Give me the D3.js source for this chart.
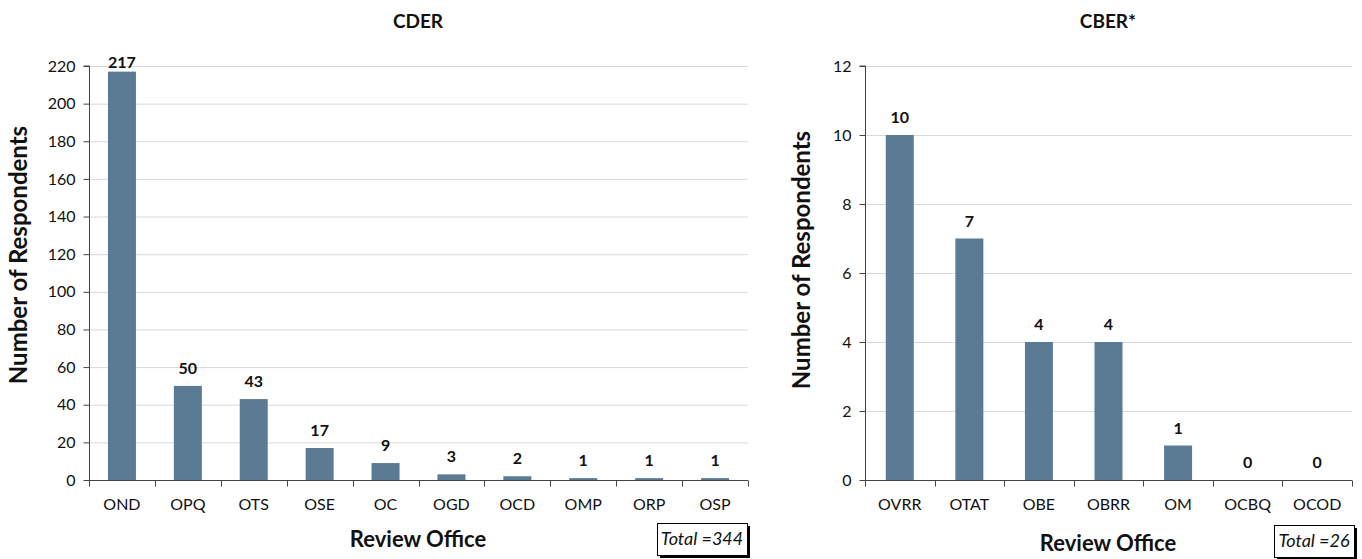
<!DOCTYPE html>
<html>
<head>
<meta charset="utf-8">
<script src="https://cdn.jsdelivr.net/npm/d3@7"></script>
<style>
  body { margin: 0; background: #fff; }
  svg { display: block; font-family: Lato, "Open Sans", sans-serif; }
</style>
</head>
<body>
<svg id="chart" width="1362" height="559"></svg>
<script>
// CDER review offices and respondent counts
const cderOffices = ["OND", "OPQ", "OTS", "OSE", "OC", "OGD", "OCD", "OMP", "ORP", "OSP"];
const cderCounts = [217, 50, 43, 17, 9, 3, 2, 1, 1, 1];
const cderTicks = [0, 20, 40, 60, 80, 100, 120, 140, 160, 180, 200, 220];

// CBER review offices and respondent counts
const cberOffices = ["OVRR", "OTAT", "OBE", "OBRR", "OM", "OCBQ", "OCOD"];
const cberCounts = [10, 7, 4, 4, 1, 0, 0];
const cberTicks = [0, 2, 4, 6, 8, 10, 12];

const panelTitles = ["CDER", "CBER*"];
const totals = ["Total =344", "Total =26"];

const svg = d3.select("#chart");
const barColor = "#5b7b94";

function drawPanel(cfg) {
  const g = svg.append("g");
  const x = d3.scaleBand().domain(cfg.cats).range([cfg.x0, cfg.x1]).paddingInner(0).paddingOuter(0);
  const y = d3.scaleLinear().domain([0, cfg.ymax]).range([cfg.yBottom, cfg.yTop]);
  const barW = 28;

  // horizontal gridlines
  g.selectAll("line.grid").data(cfg.ticks.filter(t => t > 0)).join("line")
    .attr("x1", cfg.x0).attr("x2", cfg.x1)
    .attr("y1", d => y(d) + 0.5).attr("y2", d => y(d) + 0.5)
    .attr("stroke", "#d9d9d9").attr("stroke-width", 1);

  // bars
  g.selectAll("rect.bar").data(cfg.vals).join("rect")
    .attr("x", (d, i) => x(cfg.cats[i]) + x.bandwidth() / 2 - barW / 2)
    .attr("width", barW)
    .attr("y", d => y(d))
    .attr("height", d => y(0) - y(d))
    .attr("fill", barColor);

  // value labels, kept inside the plot area at the top
  g.selectAll("text.val").data(cfg.vals).join("text")
    .attr("x", (d, i) => x(cfg.cats[i]) + x.bandwidth() / 2)
    .attr("y", d => Math.max(y(d) - 12, cfg.yTop + 2))
    .attr("text-anchor", "middle")
    .attr("font-size", 16).attr("font-weight", "bold").attr("fill", "#111")
    .text(d => d);

  // y axis
  const yAxis = d3.axisLeft(y).tickValues(cfg.ticks).tickSize(6).tickPadding(8);
  const ya = g.append("g").attr("transform", `translate(${cfg.x0 + 0.5},0)`).call(yAxis);
  ya.select(".domain").attr("stroke", "#444").attr("d", `M-6,${cfg.yTop}H0V${cfg.yBottom}`);
  ya.selectAll(".tick line").attr("stroke", "#444");
  ya.selectAll(".tick text").attr("font-size", 16).attr("fill", "#111").attr("font-family", "Lato, sans-serif");

  // x axis with ticks at band boundaries
  const xa = g.append("g").attr("transform", `translate(0,${cfg.yBottom + 0.5})`);
  xa.append("line").attr("x1", cfg.x0).attr("x2", cfg.x1).attr("stroke", "#444");
  const bounds = cfg.cats.map(c => x(c)).concat([cfg.x1]);
  xa.selectAll("line.tk").data(bounds).join("line")
    .attr("x1", d => Math.round(d) + 0.5).attr("x2", d => Math.round(d) + 0.5)
    .attr("y1", 0).attr("y2", 6).attr("stroke", "#444");
  xa.selectAll("text").data(cfg.cats).join("text")
    .attr("x", d => x(d) + x.bandwidth() / 2)
    .attr("y", 29)
    .attr("text-anchor", "middle")
    .attr("font-size", 16).attr("fill", "#111")
    .text(d => d);

  // titles
  g.append("text").attr("x", cfg.titleX).attr("y", 28)
    .attr("text-anchor", "middle").attr("font-size", 19).attr("font-weight", "bold").attr("fill", "#111")
    .text(cfg.title);
  g.append("text").attr("x", cfg.titleX).attr("y", cfg.xTitleY)
    .attr("text-anchor", "middle").attr("font-size", 22).attr("font-weight", "bold").attr("fill", "#111")
    .text("Review Office");
  g.append("text")
    .attr("transform", `translate(${cfg.yTitleX},${cfg.yTitleMid}) rotate(-90)`)
    .attr("text-anchor", "middle").attr("font-size", 24).attr("font-weight", "bold").attr("fill", "#111")
    .text("Number of Respondents");

  // total box with shadow
  const b = cfg.box;
  g.append("rect").attr("x", b.x + 3).attr("y", b.y + 3).attr("width", b.w).attr("height", b.h).attr("fill", "#000");
  g.append("rect").attr("x", b.x + 0.5).attr("y", b.y + 0.5).attr("width", b.w).attr("height", b.h)
    .attr("fill", "#fff").attr("stroke", "#000").attr("stroke-width", 1);
  g.append("text").attr("x", b.x + b.w / 2).attr("y", b.y + b.h / 2 + 6)
    .attr("text-anchor", "middle").attr("font-size", 18).attr("font-style", "italic").attr("fill", "#111")
    .text(cfg.total);
}

drawPanel({
  cats: cderOffices, vals: cderCounts, ticks: cderTicks, ymax: 220,
  x0: 89, x1: 748, yTop: 66, yBottom: 480,
  title: panelTitles[0], titleX: 418, xTitleY: 547, yTitleX: 27, yTitleMid: 255,
  total: totals[0], box: { x: 657, y: 523, w: 90, h: 32 }
});

drawPanel({
  cats: cberOffices, vals: cberCounts, ticks: cberTicks, ymax: 12,
  x0: 865, x1: 1352, yTop: 66, yBottom: 480,
  title: panelTitles[1], titleX: 1108, xTitleY: 551, yTitleX: 810, yTitleMid: 260,
  total: totals[1], box: { x: 1274, y: 525, w: 80, h: 32 }
});
</script>
</body>
</html>
